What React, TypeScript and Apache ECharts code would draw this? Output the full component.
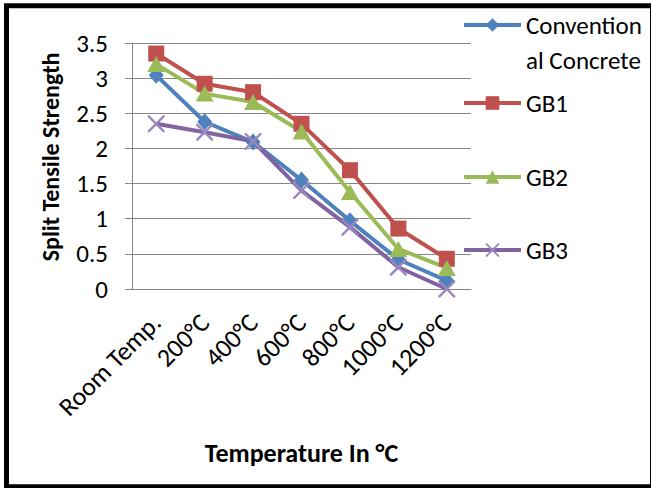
import React, { useEffect, useRef } from "react";
import * as echarts from "echarts";

const categories = ["Room Temp.", "200°C", "400°C", "600°C", "800°C", "1000°C", "1200°C"];
const conventional = [3.04, 2.38, 2.09, 1.55, 0.97, 0.42, 0.12];
const gb1 = [3.35, 2.92, 2.8, 2.35, 1.69, 0.86, 0.43];
const gb2 = [3.2, 2.78, 2.66, 2.24, 1.38, 0.57, 0.3];
const gb3 = [2.35, 2.23, 2.1, 1.4, 0.88, 0.31, 0.0];
const yTicks = [0, 0.5, 1, 1.5, 2, 2.5, 3, 3.5];

const FONT = "Carlito, Lato, 'Liberation Sans', sans-serif";
const X_PATH =
  "path://M0,0 L2,0 L10,8 L18,0 L20,0 L20,2 L12,10 L20,18 L20,20 L18,20 L10,12 L2,20 L0,20 L0,18 L8,10 L0,2 Z";

export default function App() {
  const ref = useRef<HTMLDivElement>(null);
  useEffect(() => {
    if (!ref.current) return;
    const chart = echarts.init(ref.current, null, { renderer: "svg" });
    const mk = (name: string, data: number[], color: string, symbol: string, size: any, symColor?: string) => ({
      name,
      type: "line",
      data,
      symbol,
      symbolSize: size,
      lineStyle: { color, width: 4 },
      itemStyle: { color: symColor || color },
    });
    const legendText = { fontFamily: FONT, fontSize: 25, color: "#000" };
    const legendBase = {
      left: 462,
      orient: "vertical",
      itemWidth: 57,
      itemHeight: 17,
      padding: 0,
      textStyle: legendText,
      lineStyle: { width: 4 },
      selectedMode: false,
    };
    chart.setOption({
      animation: false,
      backgroundColor: "#fff",
      grid: { left: 132, right: 180, top: 43, bottom: 199, containLabel: false },
      xAxis: {
        type: "category",
        data: categories,
        boundaryGap: true,
        name: "Temperature In °C",
        nameLocation: "middle",
        nameGap: 151,
        nameTextStyle: { fontFamily: FONT, fontSize: 26, fontWeight: "bold", color: "#000" },
        axisLine: { lineStyle: { color: "#868686", width: 1 } },
        axisTick: { show: false },
        axisLabel: { rotate: 45, margin: 29, fontFamily: FONT, fontSize: 26, color: "#000", interval: 0 },
      },
      yAxis: {
        type: "value",
        min: 0,
        max: 3.5,
        interval: 0.5,
        name: "Split Tensile Strength",
        nameLocation: "middle",
        nameGap: 70,
        nameTextStyle: { fontFamily: FONT, fontSize: 24, fontWeight: "bold", color: "#000", padding: [0, 0, 0, 18] },
        axisLine: { show: true, lineStyle: { color: "#868686", width: 1 } },
        axisTick: { show: true, length: 7, lineStyle: { color: "#868686" } },
        splitLine: { lineStyle: { color: "#868686", width: 1 } },
        axisLabel: {
          margin: 24,
          fontFamily: FONT,
          fontSize: 25,
          color: "#000",
          formatter: (v: number) => (yTicks.includes(v) ? String(v) : ""),
        },
      },
      legend: [
        {
          ...legendBase,
          top: -27.5,
          data: ["Conventional Concrete"],
          formatter: () => " \nConvention\nal Concrete",
          textStyle: { ...legendText, lineHeight: 35 },
        },
        { ...legendBase, top: 103 - 13, data: ["GB1"], textStyle: { ...legendText, lineHeight: 26 } },
        { ...legendBase, top: 177 - 13, data: ["GB2"], textStyle: { ...legendText, lineHeight: 26 } },
        { ...legendBase, top: 250 - 13, data: ["GB3"], textStyle: { ...legendText, lineHeight: 26 } },
      ],
      graphic: [
        {
          type: "rect",
          shape: { x: 6.5, y: 5.8, width: 646, height: 481 },
          style: { fill: "none", stroke: "#000", lineWidth: 5 },
          z: 100,
        },
      ],
      series: [
        mk("Conventional Concrete", conventional, "#4F81BD", "diamond", [15, 17]),
        mk("GB1", gb1, "#C0504D", "rect", 16),
        mk("GB2", gb2, "#9BBB59", "triangle", [18, 16]),
        mk("GB3", gb3, "#8064A2", X_PATH, 17, "#9B86BE"),
      ],
    });
    return () => chart.dispose();
  }, []);
  return (
    <div
      ref={ref}
      style={{ position: "fixed", left: 0, top: 0, width: 651, height: 488, background: "#fff" }}
    />
  );
}
